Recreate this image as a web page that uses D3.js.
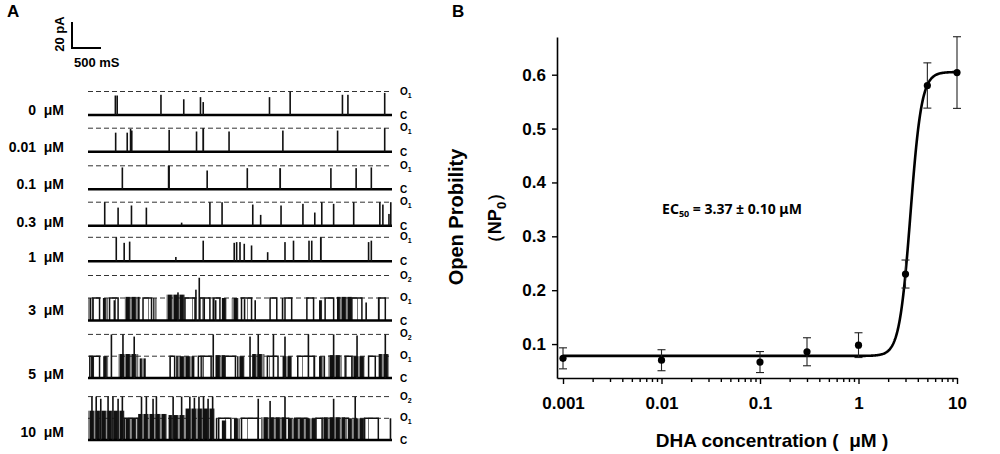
<!DOCTYPE html>
<html>
<head>
<meta charset="utf-8">
<script src="https://cdn.jsdelivr.net/npm/d3@7"></script>
<style>
  html, body { margin: 0; padding: 0; background: #fff; }
  svg { display: block; font-family: "Liberation Sans", Arial, sans-serif; }
</style>
</head>
<body>
<svg id="chart" width="1000" height="454"></svg>
<script>
// ---------- panel B : dose response ----------
const concentrations = [0.001, 0.01, 0.1, 0.3, 1, 3, 5, 10];
const openProb = [0.0735, 0.070, 0.0666, 0.0857, 0.098, 0.23, 0.58, 0.604];
const openProbErr = [0.0195, 0.0195, 0.0195, 0.026, 0.023, 0.026, 0.042, 0.0665];
const xTickValues = [0.001, 0.01, 0.1, 1, 10];
const yTickValues = [0.1, 0.2, 0.3, 0.4, 0.5, 0.6];
// Hill fit parameters of the drawn curve
const fitBottom = 0.078, fitTop = 0.605, fitEC50 = 3.37, fitHill = 7.7;

// ---------- panel A : single channel traces ----------
const doseLabels = ["0", "0.01", "0.1", "0.3", "1", "3", "5", "10"];
const openLevels = [1, 1, 1, 1, 1, 2, 2, 2];
// spikes: [time (0-1), amplitude in open levels, duration (0-1)]
const spikes0 = [[0.090, 0.83, 0.002], [0.096, 0.83, 0.002], [0.240, 0.86, 0.002], [0.315, 0.67, 0.002],
  [0.370, 0.76, 0.002], [0.379, 0.55, 0.002], [0.597, 0.76, 0.002], [0.665, 1.0, 0.004],
  [0.837, 0.86, 0.002], [0.855, 0.86, 0.002], [0.976, 0.94, 0.004]];
const spikes001 = [[0.091, 0.81, 0.002], [0.129, 0.81, 0.002], [0.140, 0.97, 0.002], [0.144, 0.9, 0.002],
  [0.267, 0.93, 0.002], [0.357, 0.86, 0.002], [0.379, 1.0, 0.006], [0.464, 0.86, 0.002],
  [0.641, 0.9, 0.002], [0.821, 0.9, 0.002], [0.976, 1.0, 0.005]];
const spikes01 = [[0.113, 0.93, 0.004], [0.266, 1.0, 0.007], [0.392, 0.8, 0.002], [0.524, 0.9, 0.002],
  [0.632, 0.9, 0.006], [0.799, 0.9, 0.002], [0.882, 0.9, 0.003], [0.932, 0.93, 0.002]];
const spikes03 = [[0.055, 1.0, 0.002], [0.099, 0.77, 0.002], [0.143, 0.86, 0.002], [0.192, 0.77, 0.002],
  [0.308, 0.13, 0.002], [0.401, 1.0, 0.004], [0.441, 1.0, 0.002], [0.542, 0.9, 0.002],
  [0.568, 0.46, 0.002], [0.635, 0.86, 0.002], [0.707, 0.93, 0.002], [0.746, 0.56, 0.004],
  [0.769, 1.0, 0.002], [0.808, 0.93, 0.002], [0.874, 1.0, 0.002], [0.960, 1.0, 0.004],
  [0.970, 0.9, 0.003], [0.990, 0.5, 0.004], [0.996, 1.0, 0.003]];
const spikes1 = [[0.093, 1.0, 0.003], [0.119, 0.77, 0.002], [0.137, 0.82, 0.002], [0.289, 0.18, 0.002],
  [0.379, 0.86, 0.002], [0.481, 0.77, 0.002], [0.489, 0.8, 0.002], [0.500, 0.8, 0.002],
  [0.514, 0.73, 0.002], [0.538, 0.66, 0.002], [0.591, 0.38, 0.002], [0.648, 0.8, 0.002],
  [0.676, 0.86, 0.002], [0.727, 0.86, 0.002], [0.736, 0.86, 0.002], [0.766, 1.0, 0.006],
  [0.923, 0.8, 0.002], [0.932, 0.86, 0.002]];
const spikes3 = [[0.296, 1.25, 0.002], [0.355, 1.37, 0.002], [0.366, 1.9, 0.002], [0.42, 0.9, 0.002],
  [0.515, 0.95, 0.002], [0.64, 1.0, 0.002], [0.55, 0.9, 0.002], [0.915, 0.8, 0.002]];
const spikes5 = [[0.077, 2.0, 0.003], [0.115, 2.0, 0.002], [0.152, 1.9, 0.002], [0.059, 1.0, 0.002],
  [0.412, 2.0, 0.002], [0.533, 1.9, 0.002], [0.56, 2.0, 0.002], [0.61, 2.0, 0.002],
  [0.648, 1.9, 0.002], [0.725, 2.0, 0.002], [0.808, 2.0, 0.002], [0.885, 1.95, 0.002],
  [0.978, 2.0, 0.003]];
const spikes10 = [[0.013, 2.0, 0.003], [0.027, 2.0, 0.002], [0.042, 1.9, 0.003], [0.066, 2.0, 0.002],
  [0.082, 2.0, 0.003], [0.099, 1.9, 0.002], [0.113, 2.0, 0.002], [0.176, 2.0, 0.002],
  [0.192, 2.0, 0.002], [0.214, 1.9, 0.002], [0.225, 2.0, 0.002], [0.28, 2.0, 0.002],
  [0.308, 2.0, 0.002], [0.335, 2.0, 0.002], [0.35, 1.95, 0.003], [0.365, 2.0, 0.002],
  [0.38, 2.0, 0.003], [0.395, 1.9, 0.002], [0.41, 2.0, 0.002], [0.423, 1.0, 0.002],
  [0.56, 1.9, 0.002], [0.599, 1.8, 0.002], [0.648, 2.0, 0.002], [0.808, 1.9, 0.002],
  [0.879, 2.0, 0.002], [0.995, 1.0, 0.003]];
// sustained openings: [start, end, level]
const opens3 = [[0.016, 0.038, 1], [0.071, 0.099, 1], [0.181, 0.209, 1], [0.319, 0.352, 1],
  [0.368, 0.401, 1], [0.412, 0.434, 1], [0.505, 0.538, 1], [0.599, 0.621, 1], [0.648, 0.67, 1],
  [0.72, 0.742, 1], [0.78, 0.808, 1], [0.868, 0.901, 1], [0.956, 0.978, 1]];
const opens5 = [[0.006, 0.038, 1], [0.27, 0.285, 1], [0.363, 0.405, 1], [0.45, 0.485, 1],
  [0.59, 0.625, 1], [0.69, 0.745, 1], [0.846, 0.868, 1], [0.923, 0.945, 1]];
const opens10 = [[0.121, 0.165, 1], [0.43, 0.47, 1], [0.505, 0.56, 1], [0.65, 0.66, 1],
  [0.68, 0.72, 1], [0.75, 0.77, 1], [0.845, 0.857, 1], [0.91, 0.955, 1]];
// dense flickering bursts: [start, end, top level]
const flicker3 = [[0.0, 0.011, 1], [0.049, 0.066, 1], [0.083, 0.09, 0.9], [0.121, 0.17, 1.05],
  [0.214, 0.225, 1], [0.258, 0.319, 1.15], [0.375, 0.385, 1], [0.44, 0.456, 1],
  [0.473, 0.495, 1], [0.76, 0.77, 0.9], [0.819, 0.868, 1.05]];
const flicker5 = [[0.01, 0.02, 1], [0.05, 0.066, 1], [0.1, 0.165, 1.1], [0.17, 0.19, 0.9],
  [0.29, 0.35, 1.0], [0.37, 0.38, 1], [0.418, 0.45, 1.05], [0.49, 0.515, 1.0], [0.54, 0.58, 1.1],
  [0.64, 0.67, 1.0], [0.76, 0.78, 1], [0.79, 0.835, 1.05], [0.868, 0.91, 1.0], [0.956, 0.99, 1.1]];
const flicker10 = [[0.0, 0.12, 1.35], [0.125, 0.16, 1.0], [0.165, 0.26, 1.2], [0.265, 0.32, 1.15],
  [0.32, 0.417, 1.45], [0.44, 0.455, 0.9], [0.48, 0.50, 1.0], [0.57, 0.65, 1.05],
  [0.66, 0.75, 1.0], [0.77, 0.845, 1.05], [0.857, 0.91, 1.0]];

const traceSpikes = [spikes0, spikes001, spikes01, spikes03, spikes1, spikes3, spikes5, spikes10];
const traceOpens = [[], [], [], [], [], opens3, opens5, opens10];
const traceFlicker = [[], [], [], [], [], flicker3, flicker5, flicker10];

const svg = d3.select("#chart");

// textures for flickering bursts and brief closures inside openings
const defs = svg.append("defs");
const flickPat = defs.append("pattern").attr("id", "flick-pat")
  .attr("patternUnits", "userSpaceOnUse").attr("width", 6).attr("height", 40);
flickPat.append("rect").attr("x", 0).attr("width", 3.9).attr("height", 40).attr("fill", "#111");
flickPat.append("rect").attr("x", 4.5).attr("width", 1.1).attr("height", 40).attr("fill", "#1a1a1a");
const openPat = defs.append("pattern").attr("id", "open-pat")
  .attr("patternUnits", "userSpaceOnUse").attr("width", 11).attr("height", 40);
openPat.append("rect").attr("x", 5).attr("width", 1).attr("height", 40).attr("fill", "#777");

// ================= Panel A =================
const gA = svg.append("g").attr("class", "panel-a");

gA.append("text").attr("x", 7).attr("y", 17)
  .style("font-size", "17px").style("font-weight", "bold").text("A");

// scale bar
gA.append("path").attr("d", "M72,22 V48 H101")
  .attr("fill", "none").attr("stroke", "#000").attr("stroke-width", 2);
gA.append("text").attr("transform", "translate(64,34) rotate(-90)")
  .attr("text-anchor", "middle").style("font-size", "13px").style("font-weight", "bold")
  .text("20 pA");
gA.append("text").attr("x", 74).attr("y", 67).style("font-size", "13px").style("font-weight", "bold")
  .text("500 mS");

const tx = d3.scaleLinear().domain([0, 1]).range([88, 392]);
const rowBase = [115, 151.7, 189.3, 225.7, 261.3, 320.5, 378, 440];
const rowUnit = [23.5, 23.5, 23.5, 23.5, 24, 22.5, 21.8, 21.7];
const labelY = [115, 151.5, 189, 226.5, 261.5, 315, 379, 436.5];

doseLabels.forEach((dose, i) => {
  const ly = d3.scaleLinear().domain([0, 1]).range([rowBase[i], rowBase[i] - rowUnit[i]]);
  const row = gA.append("g").attr("class", "trace-row");

  // dose label
  row.append("text").attr("x", 64).attr("y", labelY[i])
    .attr("text-anchor", "end").attr("xml:space", "preserve")
    .style("font-size", "14px").style("font-weight", "bold")
    .text(dose + "\u00a0\u00a0μM");

  // dashed open levels
  const levels = d3.range(1, openLevels[i] + 1);
  row.selectAll("line.level").data(levels).enter().append("line")
    .attr("class", "level")
    .attr("x1", tx(0)).attr("x2", tx(1))
    .attr("y1", (d) => ly(d)).attr("y2", (d) => ly(d))
    .attr("stroke", "#333").attr("stroke-width", 1)
    .attr("stroke-dasharray", "5,3");

  // level labels
  row.append("text").attr("x", 400).attr("y", ly(0) + 4)
    .style("font-size", "10px").style("font-weight", "bold").text("C");
  const ol = row.selectAll("text.olab").data(levels).enter().append("text")
    .attr("class", "olab").attr("x", 400).attr("y", (d) => ly(d) + 3)
    .style("font-size", "10px").style("font-weight", "bold");
  ol.append("tspan").text("O");
  ol.append("tspan").attr("dy", 3).style("font-size", "7px").text((d) => d);

  // sustained openings (with brief closures)
  const op = row.selectAll("g.open").data(traceOpens[i]).enter().append("g").attr("class", "open");
  op.append("rect")
    .attr("x", (d) => tx(d[0])).attr("width", (d) => tx(d[1]) - tx(d[0]))
    .attr("y", (d) => ly(d[2])).attr("height", (d) => ly(0) - ly(d[2]))
    .attr("fill", "url(#open-pat)");
  op.append("path")
    .attr("d", (d) => `M${tx(d[0])},${ly(0)} V${ly(d[2])} H${tx(d[1])} V${ly(0)}`)
    .attr("fill", "none").attr("stroke", "#111").attr("stroke-width", 1.5);

  // flicker bursts
  row.selectAll("rect.flick").data(traceFlicker[i]).enter().append("rect")
    .attr("class", "flick")
    .attr("x", (d) => tx(d[0])).attr("width", (d) => tx(d[1]) - tx(d[0]))
    .attr("y", (d) => ly(d[2])).attr("height", (d) => ly(0) - ly(d[2]))
    .attr("fill", "url(#flick-pat)");

  // baseline (closed level)
  row.append("line")
    .attr("x1", tx(0)).attr("x2", tx(1))
    .attr("y1", ly(0)).attr("y2", ly(0))
    .attr("stroke", "#000").attr("stroke-width", 2.4);

  // brief openings
  row.selectAll("rect.spike").data(traceSpikes[i]).enter().append("rect")
    .attr("class", "spike")
    .attr("x", (d) => tx(d[0]) - Math.max(1.6, tx(d[2]) - tx(0)) / 2)
    .attr("width", (d) => Math.max(1.6, tx(d[2]) - tx(0)))
    .attr("y", (d) => ly(d[1])).attr("height", (d) => ly(0) - ly(d[1]))
    .attr("fill", "#111");
});

// ================= Panel B =================
const gB = svg.append("g").attr("class", "panel-b");
gB.append("text").attr("x", 452).attr("y", 17)
  .style("font-size", "17px").style("font-weight", "bold").text("B");

const x = d3.scaleLog().domain([Math.pow(10, -3.061), 10]).range([557, 957]);
const y = d3.scaleLinear().domain([0.037, 0.67]).range([378, 37]);

const minorTicks = [];
[0.001, 0.01, 0.1, 1].forEach((dec) => {
  d3.range(2, 10).forEach((k) => minorTicks.push(dec * k));
});

gB.append("g").attr("transform", `translate(0,${y.range()[0]})`)
  .call(d3.axisBottom(x).tickValues(xTickValues).tickFormat((d) => String(d))
    .tickSize(6).tickSizeOuter(0).tickPadding(13));
gB.append("g").attr("transform", `translate(0,${y.range()[0]})`)
  .call(d3.axisBottom(x).tickValues(minorTicks).tickFormat("").tickSize(4).tickSizeOuter(0))
  .select(".domain").remove();

gB.append("g").attr("transform", `translate(${x.range()[0]},0)`)
  .call(d3.axisLeft(y).tickValues(yTickValues).tickFormat(d3.format(".1f"))
    .tickSize(5).tickSizeOuter(0).tickPadding(6));

gB.selectAll(".domain").attr("stroke", "#000").attr("stroke-width", 1.6);
gB.selectAll(".tick line").attr("stroke", "#000").attr("stroke-width", 1.4);
gB.selectAll(".tick text")
  .style("font-family", '"Liberation Sans", Arial, sans-serif')
  .style("font-size", "17px").style("font-weight", "bold").attr("fill", "#000");

// axis titles
gB.append("text").attr("x", 772).attr("y", 447).attr("text-anchor", "middle")
  .attr("xml:space", "preserve")
  .style("font-size", "19px").style("font-weight", "bold")
  .text("DHA concentration (  μM )");
gB.append("text").attr("transform", "translate(463,217) rotate(-90)")
  .attr("text-anchor", "middle").style("font-size", "20px").style("font-weight", "bold")
  .text("Open Probility");
const npLab = gB.append("text").attr("transform", "translate(501,218) rotate(-90)")
  .attr("text-anchor", "middle").style("font-size", "18px").style("font-weight", "bold");
npLab.append("tspan").text("（NP");
npLab.append("tspan").attr("dy", 5).style("font-size", "13px").text("0");
npLab.append("tspan").attr("dy", -5).text("）");

// EC50 annotation
const ec = gB.append("text").attr("x", 732).attr("y", 214).attr("text-anchor", "middle")
  .style("font-family", '"Noto Sans", "DejaVu Sans", sans-serif')
  .style("font-size", "14px").style("font-weight", "bold");
ec.append("tspan").text("EC");
ec.append("tspan").attr("dy", 3).style("font-size", "9px").text("50");
ec.append("tspan").attr("dy", -3).text(" = 3.37 ± 0.10 μM");

// fitted Hill curve
const hill = (c) => fitBottom + (fitTop - fitBottom) / (1 + Math.pow(fitEC50 / c, fitHill));
const curveX = d3.range(-3, 1.0001, 0.005).map((e) => Math.pow(10, e));
gB.append("path").datum(curveX)
  .attr("fill", "none").attr("stroke", "#000").attr("stroke-width", 2.6)
  .attr("d", d3.line().x((c) => x(c)).y((c) => y(hill(c))));

// error bars and points
const pts = concentrations.map((c, i) => ({ c, v: openProb[i], e: openProbErr[i] }));
const eb = gB.selectAll("g.err").data(pts).enter().append("g").attr("class", "err")
  .attr("stroke", "#222").attr("stroke-width", 1.1);
eb.append("line").attr("x1", (d) => x(d.c)).attr("x2", (d) => x(d.c))
  .attr("y1", (d) => y(d.v - d.e)).attr("y2", (d) => y(d.v + d.e));
eb.append("line").attr("x1", (d) => x(d.c) - 4).attr("x2", (d) => x(d.c) + 4)
  .attr("y1", (d) => y(d.v - d.e)).attr("y2", (d) => y(d.v - d.e));
eb.append("line").attr("x1", (d) => x(d.c) - 4).attr("x2", (d) => x(d.c) + 4)
  .attr("y1", (d) => y(d.v + d.e)).attr("y2", (d) => y(d.v + d.e));

gB.selectAll("circle.pt").data(pts).enter().append("circle")
  .attr("class", "pt")
  .attr("cx", (d) => x(d.c)).attr("cy", (d) => y(d.v)).attr("r", 3.6)
  .attr("fill", "#000");
</script>
</body>
</html>
